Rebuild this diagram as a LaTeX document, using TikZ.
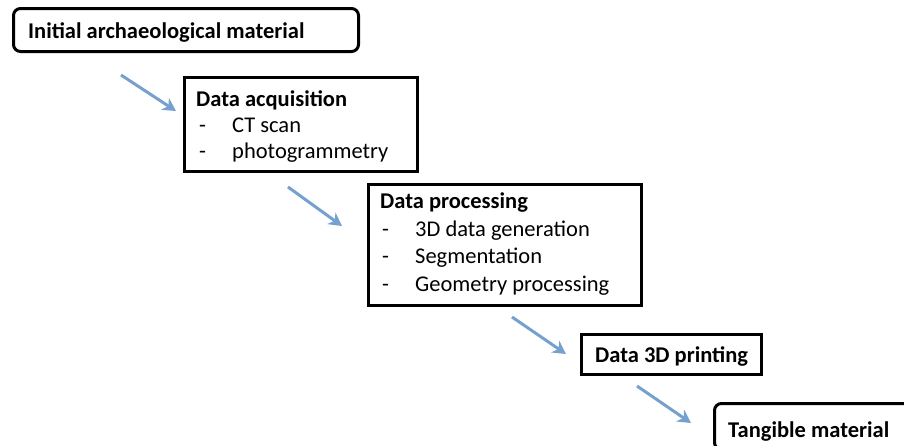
\documentclass[tikz,border=0pt]{standalone}
\usepackage{fontspec}
\setmainfont{Carlito}
\usetikzlibrary{arrows.meta}
\definecolor{arrowblue}{RGB}{118,160,206}
\begin{document}
\begin{tikzpicture}[x=1pt,y=-1pt,
  box/.style={draw=black,line width=3pt,anchor=north west,inner sep=0pt},
  rbox/.style={box,rounded corners=7pt},
  lbl/.style={anchor=base west,inner sep=0pt,font=\fontsize{22.5}{26}\selectfont},
  ttl/.style={anchor=base west,inner sep=0pt,font=\fontsize{22.5}{26}\selectfont\bfseries},
  flow/.style={draw=arrowblue,line width=3pt,-{Stealth[length=13pt,width=14pt,inset=4pt]}}]
\useasboundingbox (0,0) rectangle (904,445);
\clip (0,0) rectangle (904,445);
% boxes
\node[rbox,minimum width=345pt,minimum height=43pt] (b1) at (12,7) {};
\node[box,minimum width=233pt,minimum height=94pt] (b2) at (183,76) {};
\node[box,minimum width=273pt,minimum height=121pt] (b3) at (367,183) {};
\node[box,minimum width=180pt,minimum height=40pt] (b4) at (580,333) {};
\node[rbox,minimum width=210pt,minimum height=46pt] (b5) at (713,402) {};
% texts
\node[ttl] (t1) at (28,38) {Initial archaeological material};
\node[ttl] (t2) at (196,106) {Data acquisition};
\node[lbl] (t2a) at (199,132) {\makebox[33pt][l]{-}CT scan};
\node[lbl] (t2b) at (199,158) {\makebox[33pt][l]{-}photogrammetry};
\node[ttl] (t3) at (380,208) {Data processing};
\node[lbl] (t3a) at (382,236) {\makebox[33pt][l]{-}3D data generation};
\node[lbl] (t3b) at (382,263) {\makebox[33pt][l]{-}Segmentation};
\node[lbl] (t3c) at (382,291) {\makebox[33pt][l]{-}Geometry processing};
\node[ttl] (t4) at (595,362) {Data 3D printing};
\node[ttl] (t5) at (728,437) {Tangible material};
% arrows
\coordinate (a1s) at (121,75);  \coordinate (a1e) at (176,111);
\coordinate (a2s) at (288,187); \coordinate (a2e) at (342,226);
\coordinate (a3s) at (512,317); \coordinate (a3e) at (566,354);
\coordinate (a4s) at (637,386); \coordinate (a4e) at (691,423);
\draw[flow] (a1s) -- (a1e);
\draw[flow] (a2s) -- (a2e);
\draw[flow] (a3s) -- (a3e);
\draw[flow] (a4s) -- (a4e);
\end{tikzpicture}
\end{document}
